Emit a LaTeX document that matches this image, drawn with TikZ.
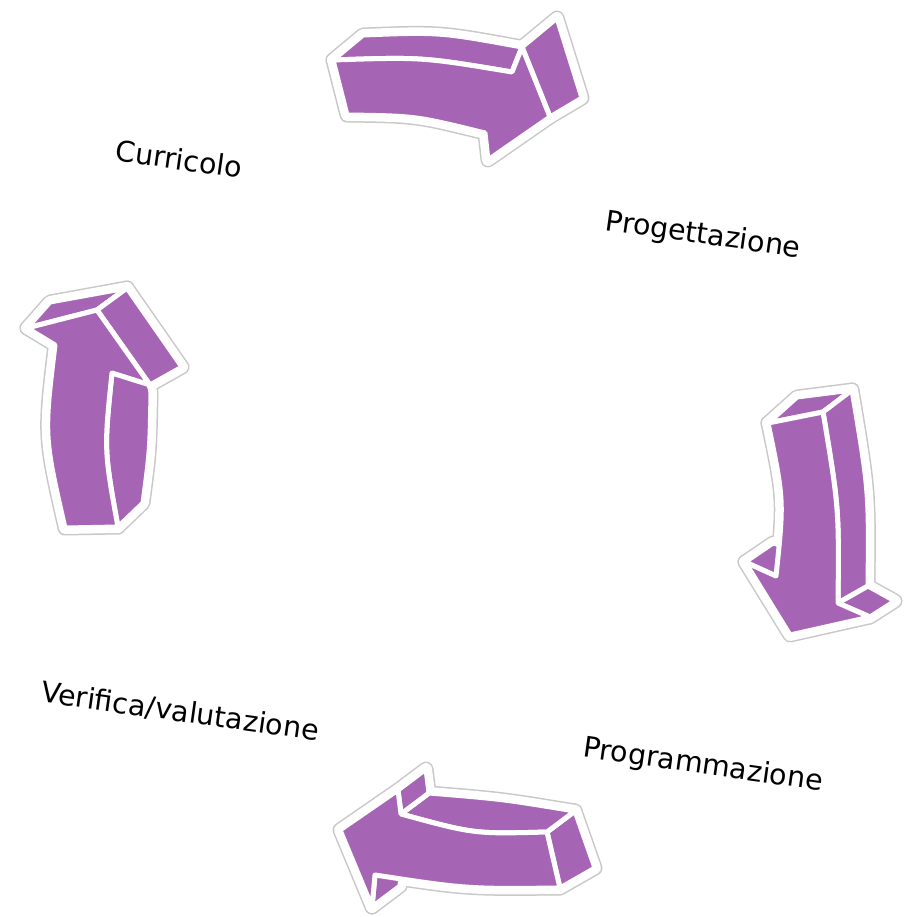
\documentclass[tikz,border=0pt]{standalone}
\usepackage{fontspec}
\setmainfont{DejaVu Sans}
\newfontfamily\phasefont{DejaVu Sans}
\definecolor{arrowpurple}{RGB}{166,100,180}
\definecolor{halogray}{RGB}{200,200,200}

% the four 3D arrows, one face per path; #1 is the style of the pass
\newcommand\cyclearrows[1]{%
  % top arrow
  \path[#1] (333,60) -- (363,35) .. controls (440,32) .. (522,47) -- (512,72) .. controls (422,57) .. (333,60) -- cycle;
  \path[#1] (522,47) -- (557,18) -- (582,98) -- (550,117) -- cycle;
  \path[#1] (333,60) .. controls (422,57) .. (512,72) -- (522,47) -- (550,117) -- (488,160) -- (485,133) .. controls (416,116) .. (347,115) -- cycle;
  % right arrow
  \path[#1] (768,423) -- (797,397) -- (852,390) -- (823,412) -- cycle;
  \path[#1] (823,412) -- (852,390) .. controls (869,491) .. (868,586) -- (838,603) .. controls (839,508) .. (823,412) -- cycle;
  \path[#1] (838,603) -- (868,586) -- (895,601) -- (870,617) -- cycle;
  \path[#1] (745,562) -- (773,543) -- (805,552) -- (776,576) -- cycle;
  \path[#1] (768,423) -- (823,412) .. controls (839,508) .. (838,603) -- (870,617) -- (790,635) -- (745,562) -- (776,576) .. controls (784,500) .. (768,423) -- cycle;
  % bottom arrow
  \path[#1] (547,832) -- (575,811) -- (595,868) -- (560,888) -- cycle;
  \path[#1] (547,832) -- (575,811) .. controls (502,799) .. (429,793) -- (401,814) .. controls (474,834) .. (547,832) -- cycle;
  \path[#1] (401,814) -- (398,790) -- (426,769) -- (429,793) -- cycle;
  \path[#1] (375,875) -- (403,854) -- (400,886) -- (372,907) -- cycle;
  \path[#1] (547,832) .. controls (474,834) .. (401,814) -- (398,790) -- (340,830) -- (372,907) -- (375,875) .. controls (467,889) .. (560,888) -- cycle;
  % left arrow
  \path[#1] (27,328) -- (50,302) -- (127,288) -- (97,310) -- cycle;
  \path[#1] (112,373) -- (140,350) -- (151,392) .. controls (150,450) .. (143,503) -- (118,527) .. controls (104,450) .. (112,373) -- cycle;
  \path[#1] (97,310) -- (127,288) -- (182,367) -- (150,385) -- cycle;
  \path[#1] (65,528) .. controls (44,436) .. (55,345) -- (27,328) -- (97,310) -- (150,385) -- (112,373) .. controls (104,450) .. (118,527) -- cycle;
}

\begin{document}
\begin{tikzpicture}[
  x=1pt, y=-1pt,
  halo/.style={draw=halogray, line width=15pt, line join=round},
  rim/.style={draw=white, line width=12pt, line join=round},
  face/.style={fill=arrowpurple, draw=white, line width=5pt, line join=round},
  phasetext/.style={font=\phasefont\fontsize{28.5}{34}\selectfont, rotate=-8, inner sep=0pt}
]
\useasboundingbox (0,0) rectangle (904,917);
\cyclearrows{halo}
\cyclearrows{rim}
\cyclearrows{face}
\node[phasetext] (curricolo) at (179,159) {Curricolo};
\node[phasetext] (progettazione) at (703,236) {Progettazione};
\node[phasetext] (programmazione) at (703,766) {Programmazione};
\node[phasetext] (verifica) at (180,712) {Verifica/valutazione};
\end{tikzpicture}
\end{document}
